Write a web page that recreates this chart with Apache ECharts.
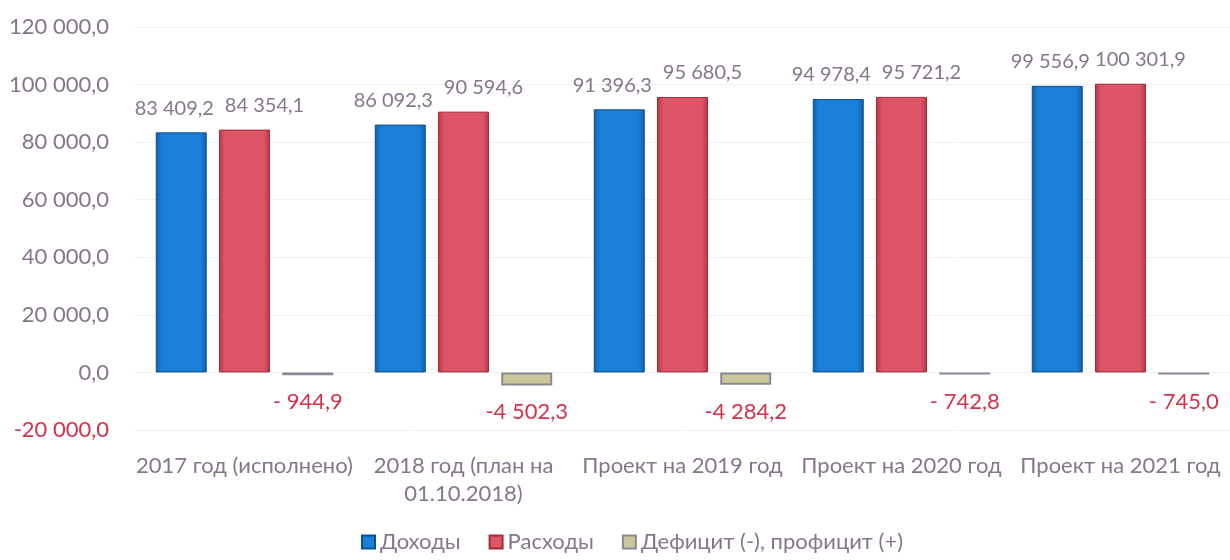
<!DOCTYPE html>
<html>
<head>
<meta charset="utf-8">
<script src="https://cdn.jsdelivr.net/npm/echarts@6/dist/echarts.min.js"></script>
<style>
  html, body { margin: 0; padding: 0; background: #fff; }
  #chart { width: 1230px; height: 560px; }
</style>
</head>
<body>
<div id="chart"></div>
<script>
const categories = ["2017 год (исполнено)", "2018 год (план на\n01.10.2018)", "Проект на 2019 год", "Проект на 2020 год", "Проект на 2021 год"];
const income = [83409.2, 86092.3, 91396.3, 94978.4, 99556.9];
const expenses = [84354.1, 90594.6, 95680.5, 95721.2, 100301.9];
const balance = [-944.9, -4502.3, -4284.2, -742.8, -745.0];
const seriesNames = ["Доходы", "Расходы", "Дефицит (-), профицит (+)"];

window.onload = function () {
    const chart = echarts.init(document.getElementById("chart"));
    const grey = "#85768a";
    const red = "#d6304b";
    const font = "Lato, 'Open Sans', sans-serif";

    // 83 409,2 style
    function fmt(v) {
        const neg = v < 0;
        const s = Math.abs(v).toFixed(1).split(".");
        const int = s[0].replace(/\B(?=(\d{3})+(?!\d))/g, " ");
        const body = int + "," + s[1];
        if (!neg) return body;
        return Math.abs(v) < 1000 ? "- " + body : "-" + body;
    }

    function grad(light, dark) {
        return new echarts.graphic.LinearGradient(0, 0, 1, 0, [
            {offset: 0, color: dark},
            {offset: 0.12, color: light},
            {offset: 0.88, color: light},
            {offset: 1, color: dark}
        ]);
    }

    const option = {
        animation: false,
        textStyle: {fontFamily: font},
        grid: {left: 135, right: 0, top: 27, bottom: 130},
        legend: {
            bottom: 2,
            left: 356,
            itemWidth: 13,
            itemHeight: 13,
            itemGap: 28,
            icon: "rect",
            textStyle: {color: grey, fontSize: 22, fontFamily: font},
            data: seriesNames
        },
        xAxis: {
            type: "category",
            data: categories,
            axisLine: {show: false},
            axisTick: {show: false},
            axisLabel: {
                color: grey,
                fontSize: 22,
                fontFamily: font,
                interval: 0,
                lineHeight: 28,
                margin: 22
            }
        },
        yAxis: {
            type: "value",
            min: -20000,
            max: 120000,
            interval: 20000,
            axisLine: {show: false},
            axisTick: {show: false},
            splitLine: {lineStyle: {color: "#f0f0f0", width: 1}},
            axisLabel: {
                fontSize: 22,
                fontFamily: font,
                margin: 26,
                formatter: fmt,
                color: function (v) { return v < 0 ? red : grey; }
            }
        },
        series: [
            {
                name: seriesNames[0],
                type: "bar",
                data: income,
                barWidth: 51,
                barGap: "24%",
                itemStyle: {color: grad("#1a7fd6", "#0e5ea8"), borderColor: "#0b4f8f", borderWidth: 1},
                label: {show: true, position: "top", distance: 14, offset: [-7, 0], color: grey, fontSize: 20, formatter: p => fmt(p.value)}
            },
            {
                name: seriesNames[1],
                type: "bar",
                data: expenses,
                barWidth: 51,
                itemStyle: {color: grad("#dd5566", "#b83646"), borderColor: "#a22d3b", borderWidth: 1},
                label: {show: true, position: "top", distance: 14, offset: [20, 0], color: grey, fontSize: 20, formatter: p => fmt(p.value)}
            },
            {
                name: seriesNames[2],
                type: "bar",
                data: balance,
                barWidth: 51,
                itemStyle: {color: "#cbc79b", borderColor: "#8a8794", borderWidth: 2},
                label: {show: true, position: "bottom", distance: 16, color: red, fontSize: 22, formatter: p => fmt(p.value)}
            }
        ]
    };
    chart.setOption(option);
};
</script>
</body>
</html>
